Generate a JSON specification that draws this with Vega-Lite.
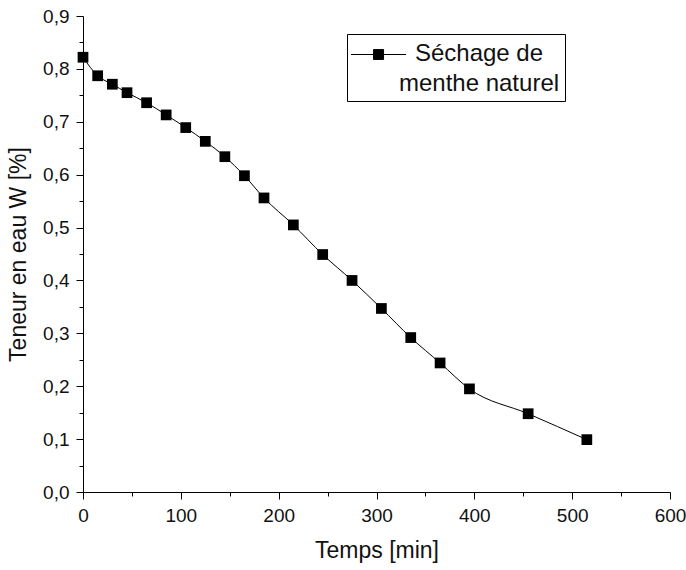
{
  "$schema": "https://vega.github.io/schema/vega-lite/v6.json",
  "width": 587,
  "height": 476,
  "autosize": {"type": "none"},
  "padding": {"left": 83, "top": 16, "right": 16, "bottom": 78},
  "background": "white",
  "config": {
    "font": "Liberation Sans",
    "view": {"stroke": null},
    "axis": {
      "grid": false,
      "domainColor": "black",
      "domainWidth": 1,
      "tickColor": "black",
      "tickWidth": 1,
      "labelColor": "#111",
      "titleColor": "#111",
      "labelFontSize": 19,
      "titleFontSize": 23,
      "titleFontWeight": "normal",
      "labelFont": "Liberation Sans",
      "titleFont": "Liberation Sans",
      "labelFlush": false
    }
  },
  "data": {
    "values": [
      {"t": 0, "w": 0.822, "serie": "Séchage de menthe naturel"},
      {"t": 15, "w": 0.787, "serie": "Séchage de menthe naturel"},
      {"t": 30, "w": 0.771, "serie": "Séchage de menthe naturel"},
      {"t": 45, "w": 0.755, "serie": "Séchage de menthe naturel"},
      {"t": 65, "w": 0.736, "serie": "Séchage de menthe naturel"},
      {"t": 85, "w": 0.713, "serie": "Séchage de menthe naturel"},
      {"t": 105, "w": 0.689, "serie": "Séchage de menthe naturel"},
      {"t": 125, "w": 0.663, "serie": "Séchage de menthe naturel"},
      {"t": 145, "w": 0.634, "serie": "Séchage de menthe naturel"},
      {"t": 165, "w": 0.598, "serie": "Séchage de menthe naturel"},
      {"t": 185, "w": 0.556, "serie": "Séchage de menthe naturel"},
      {"t": 215, "w": 0.505, "serie": "Séchage de menthe naturel"},
      {"t": 245, "w": 0.449, "serie": "Séchage de menthe naturel"},
      {"t": 275, "w": 0.4, "serie": "Séchage de menthe naturel"},
      {"t": 305, "w": 0.347, "serie": "Séchage de menthe naturel"},
      {"t": 335, "w": 0.292, "serie": "Séchage de menthe naturel"},
      {"t": 365, "w": 0.244, "serie": "Séchage de menthe naturel"},
      {"t": 395, "w": 0.195, "serie": "Séchage de menthe naturel"},
      {"t": 455, "w": 0.148, "serie": "Séchage de menthe naturel"},
      {"t": 515, "w": 0.099, "serie": "Séchage de menthe naturel"}
    ]
  },
  "encoding": {
    "x": {
      "field": "t",
      "type": "quantitative",
      "scale": {"domain": [0, 600], "nice": false, "zero": false},
      "axis": {
        "title": "Temps [min]",
        "values": [0, 50, 100, 150, 200, 250, 300, 350, 400, 450, 500, 550, 600],
        "labelExpr": "datum.value % 100 === 0 ? datum.label : ''",
        "tickSize": {"condition": {"test": "datum.value % 100 === 0", "value": 7}, "value": 4},
        "labelPadding": 7,
        "titlePadding": 14
      }
    },
    "y": {
      "field": "w",
      "type": "quantitative",
      "scale": {"domain": [0, 0.9], "nice": false},
      "axis": {
        "title": "Teneur en eau W [%]",
        "values": [0, 0.05, 0.1, 0.15, 0.2, 0.25, 0.3, 0.35, 0.4, 0.45, 0.5, 0.55, 0.6, 0.65, 0.7, 0.75, 0.8, 0.85, 0.9],
        "labelExpr": "abs(datum.value * 10 - round(datum.value * 10)) < 0.001 ? replace(format(datum.value, '.1f'), '.', ',') : ''",
        "tickSize": {"condition": {"test": "abs(datum.value * 10 - round(datum.value * 10)) < 0.001", "value": 7}, "value": 4},
        "labelPadding": 7,
        "titlePadding": 12
      }
    },
    "color": {
      "field": "serie",
      "type": "nominal",
      "scale": {"range": ["black"]},
      "legend": {
        "title": null,
        "orient": "none",
        "legendX": 264,
        "legendY": 18,
        "strokeColor": "black",
        "fillColor": "white",
        "padding": 5,
        "symbolType": "M-1.1,0H0.4M1.07,0H2.57M0.4,-0.33H1.07V0.33H0.4Z",
        "symbolSize": 900,
        "symbolFillColor": "black",
        "symbolStrokeColor": "black",
        "symbolStrokeWidth": 1,
        "labelFontSize": 24,
        "labelFont": "Liberation Sans",
        "labelColor": "#111",
        "labelAlign": "center",
        "labelBaseline": "top",
        "labelOffset": 96,
        "labelLimit": 400,
        "labelExpr": "['Séchage de', 'menthe naturel']",
        "encode": {
          "labels": {"update": {"lineHeight": {"value": 30}, "dy": {"value": -13}}}
        }
      }
    }
  },
  "layer": [
    {
      "mark": {"type": "line", "interpolate": "monotone", "strokeWidth": 1, "color": "black"}
    },
    {
      "mark": {"type": "point", "shape": "square", "filled": true, "size": 115, "opacity": 1, "color": "black"}
    }
  ]
}
